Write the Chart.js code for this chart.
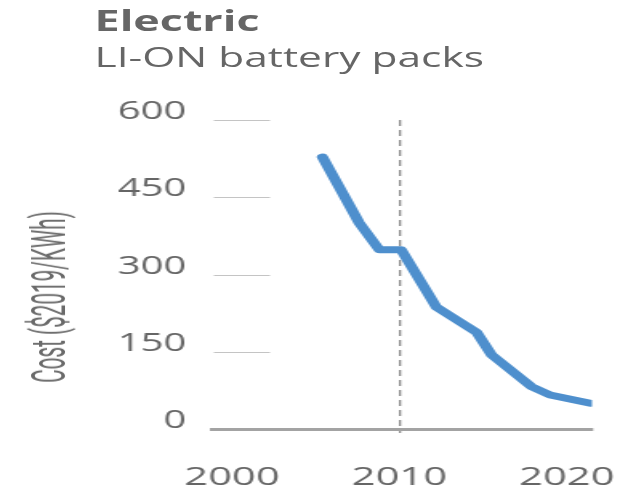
<!DOCTYPE html>
<html>
<head>
<meta charset="utf-8">
<script src="https://cdn.jsdelivr.net/npm/chart.js@4/dist/chart.umd.min.js"></script>
<style>
  html, body { margin: 0; padding: 0; background: #ffffff; overflow: hidden; }
  /* The whole figure is laid out narrow and widened horizontally */
  #wrap {
    position: relative; width: 392px; height: 487px;
    transform: scaleX(1.60204); transform-origin: 0 0;
  }
  #plot { position: absolute; left: 0; top: 0; width: 392px; height: 487px; }
  .t1, .t2, .yt { position: absolute; color: #666666; white-space: nowrap; line-height: 1; }
  .t1 { left: 59px; top: 1px; font: 700 28px "Open Sans", sans-serif; }
  .t2 { left: 59px; top: 38.5px; font: 400 26.5px "Open Sans", sans-serif; }
  .yt {
    left: 29.5px; top: 297px; font: 400 30px "Liberation Sans Narrow", "Roboto", sans-serif;
    color: #6a6a6a;
    transform: translate(-50%, -50%) rotate(-90deg) scaleX(0.69);
  }
</style>
</head>
<body>
<div id="wrap">
  <div id="plot"><canvas id="chart"></canvas></div>
  <div class="t1">Electric</div>
  <div class="t2">LI-ON battery packs</div>
  <div class="yt">Cost ($2019/KWh)</div>
</div>
<script>
// Pack cost by year, $2019 per kWh
const years = [2005.4, 2007.6, 2008.8, 2010.1, 2012.2, 2014.6, 2015.5, 2017.9, 2019.0, 2021.4];
const costs = [528, 400, 348, 348, 237, 188, 144, 82, 66, 50];

// Axis ticks
const xTickYears = [2000, 2010, 2020];
const yTickValues = [0, 150, 300, 450, 600];
const markerYear = 2010;

// Short grid stubs at the left edge of the plot for each y tick
const gridStubs = {
  id: 'gridStubs',
  beforeDatasetsDraw(chart) {
    const { ctx, chartArea, scales: { y } } = chart;
    ctx.save();
    ctx.strokeStyle = '#c4c4c4';
    ctx.lineWidth = 1.2;
    y.ticks.forEach(t => {
      if (t.value === 0) return;
      const py = Math.round(y.getPixelForValue(t.value)) + 0.5;
      ctx.beginPath();
      ctx.moveTo(chartArea.left + 1.2, py);
      ctx.lineTo(chartArea.left + 36.2, py);
      ctx.stroke();
    });
    ctx.restore();
  }
};

new Chart(document.getElementById('chart'), {
  type: 'line',
  data: {
    datasets: [{
      data: years.map((x, i) => ({ x, y: costs[i] })),
      borderColor: '#4e8fcd',
      borderWidth: 7,
      borderCapStyle: 'round',
      borderJoinStyle: 'round',
      pointRadius: 0,
      tension: 0,
      fill: false
    }]
  },
  options: {
    responsive: true,
    maintainAspectRatio: false,
    animation: false,
    layout: { padding: { top: 120, right: 22.5, bottom: 0, left: 0 } },
    plugins: { legend: { display: false }, tooltip: { enabled: false } },
    scales: {
      x: {
        type: 'linear',
        min: 1998.8,
        max: 2021.5,
        afterBuildTicks: s => { s.ticks = xTickYears.map(v => ({ value: v })); },
        afterFit: s => { s.paddingLeft = 0; s.paddingRight = 0; s.height = 58; },
        grid: {
          drawOnChartArea: true,
          drawTicks: true,
          tickLength: 4,
          lineWidth: 1.3,
          color: c => (c.tick && c.tick.value === markerYear) ? '#8a8a8a' : 'rgba(0,0,0,0)',
          tickColor: c => (c.tick && c.tick.value === markerYear) ? '#8a8a8a' : 'rgba(0,0,0,0)'
        },
        border: { display: true, color: '#a3a3a3', width: 3, dash: [6, 4] },
        ticks: {
          padding: 29,
          color: '#666666',
          font: { family: '"Open Sans", sans-serif', size: 26 },
          maxRotation: 0,
          callback: v => String(v)
        }
      },
      y: {
        min: 0,
        max: 600,
        afterBuildTicks: s => { s.ticks = yTickValues.map(v => ({ value: v })); },
        afterFit: s => { s.width = 132.3; },
        grid: { display: false, drawTicks: false },
        border: { display: false },
        ticks: {
          padding: 16,
          labelOffset: -8,
          color: '#666666',
          font: { family: '"Open Sans", sans-serif', size: 25 }
        }
      }
    }
  },
  plugins: [gridStubs]
});
</script>
</body>
</html>
